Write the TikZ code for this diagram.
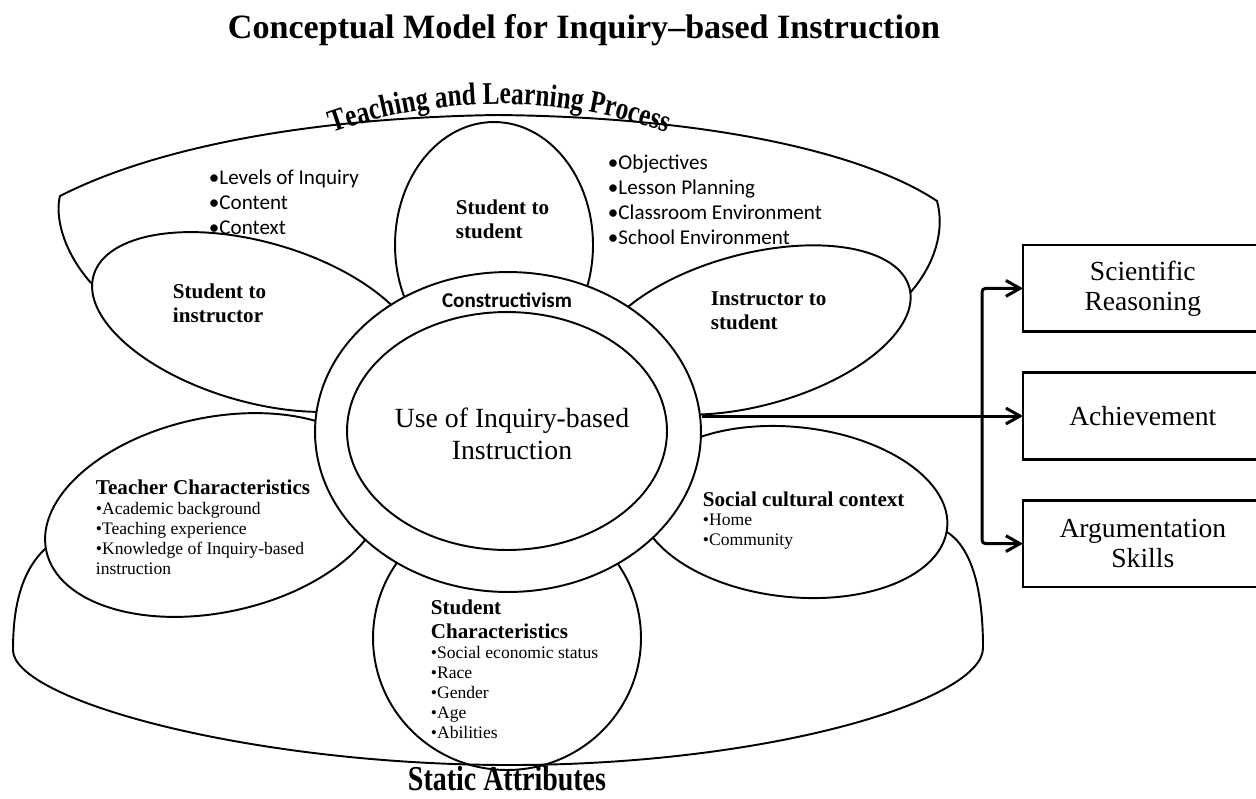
\documentclass[tikz,border=0pt]{standalone}
\usepackage{fontspec}
\setmainfont{Liberation Serif}
\newfontfamily\calibri{Carlito}
\newfontfamily\narrowserif[FakeStretch=0.8]{Liberation Serif}
\usetikzlibrary{arrows.meta,positioning,shapes.geometric,decorations.text}

\begin{document}
\begin{tikzpicture}[x=0.02cm,y=0.02cm,line width=1.1pt,>={Straight Barb[length=8pt,width=9pt]},
  petal/.style={ellipse,draw,fill=white,inner sep=0pt},
  hd/.style={font=\bfseries\fontsize{12}{13.4}\selectfont,align=left,anchor=north west,inner sep=0pt},
  bul/.style={font=\fontsize{10}{11.4}\selectfont,align=left,anchor=north west,inner sep=0pt},
  sbul/.style={font=\calibri\fontsize{12}{14.2}\selectfont,align=left,anchor=north west,inner sep=0pt},
  outcome/.style={rectangle,line width=1.5pt,minimum width=4.74cm,minimum height=1.68cm,align=center,font=\fontsize{15.7}{17}\selectfont},
  link/.style={line width=1.7pt,rounded corners=2pt},
  node distance=0.82cm]

  \useasboundingbox (0,-798) rectangle (1256,0);
  \clip (0,-798) rectangle (1256,0);

  \node[font=\bfseries\fontsize{19.4}{22}\selectfont,anchor=base] (title) at (584,-38) {Conceptual Model for Inquiry--based Instruction};

  % teaching and learning process
  \draw (91,-283) .. controls (62,-250) and (55,-215) .. (60,-196)
        .. controls (150,-150) and (300,-118) .. (497,-115)
        .. controls (700,-117) and (860,-150) .. (937,-201)
        .. controls (945,-230) and (935,-265) .. (909,-294);
  \path[decorate,decoration={text along path,text align=center,
      text={|\narrowserif\bfseries\fontsize{18}{20}\selectfont|Teaching and Learning Process}}]
    (500,-604) ++(112:500) arc[start angle=112,end angle=68,radius=10cm];

  \node[petal,minimum width=3.96cm,minimum height=4.92cm] (s2s) at (494,-245) {};
  \node[petal,minimum width=6.76cm,minimum height=3.2cm,rotate=-16] (s2i) at (256,-322) {};
  \node[petal,minimum width=6.52cm,minimum height=3.04cm,rotate=15] (i2s) at (752,-330) {};
  \node[petal,minimum width=6.9cm,minimum height=3.9cm,rotate=12] (teach) at (215,-515) {};
  \node[petal,minimum width=6.2cm,minimum height=3.4cm,rotate=-6] (social) at (793,-512) {};
  \node[petal,minimum width=5.36cm,minimum height=5.28cm] (stud) at (507,-638) {};

  % static attributes
  \draw (46,-548) .. controls (22,-570) and (13,-605) .. (13,-650)
        .. controls (13,-700) and (250,-765) .. (510,-765)
        .. controls (770,-765) and (983,-700) .. (983,-648)
        .. controls (983,-590) and (972,-548) .. (947,-532);
  \node[font=\narrowserif\bfseries\fontsize{19.9}{22}\selectfont,anchor=base] (sa) at (507,-790) {Static Attributes};

  \node[petal,minimum width=7.72cm,minimum height=6.4cm] (ring) at (508,-432) {};
  \node[petal,minimum width=6.4cm,minimum height=4.76cm] (core) at (507,-431) {};
  \node[align=center,font=\fontsize{15.8}{18.2}\selectfont] (coretxt) at (512,-434) {Use of Inquiry-based\\Instruction};
  \node[font=\calibri\bfseries\fontsize{12}{14}\selectfont,anchor=base] (constr) at (507,-307) {Constructivism};

  \node[hd] (s2stxt) at (455,-199) {Student to\\student};
  \node[hd] (s2itxt) at (172,-283) {Student to\\instructor};
  \node[hd] (i2stxt) at (710,-291) {Instructor to\\student};
  \node[sbul] (lvl) at (208,-169) {•Levels of Inquiry\\•Content\\•Context};
  \node[sbul] (obj) at (607,-154) {•Objectives\\•Lesson Planning\\•Classroom Environment\\•School Environment};

  \node[hd] (teachhd) at (95,-479) {Teacher Characteristics};
  \node[bul] (teachbul) at (95,-501) {•Academic background\\•Teaching experience\\•Knowledge of Inquiry-based\\instruction};
  \node[hd] (socialhd) at (702,-491) {Social cultural context};
  \node[bul] (socialbul) at (702,-513) {•Home\\•Community};
  \node[hd] (studhd) at (430,-599) {Student\\Characteristics};
  \node[bul] (studbul) at (430,-645) {•Social economic status\\•Race\\•Gender\\•Age\\•Abilities};

  % outcomes, cut off by the right edge
  \node[outcome,anchor=west] (ach) at (1023,-416) {Achievement};
  \node[outcome,above=of ach] (sci) {Scientific\\Reasoning};
  \node[outcome,below=of ach] (arg) {Argumentation\\Skills};
  \foreach \b in {sci,ach,arg}
    \draw[line width=1.5pt] (\b.north east) -- (\b.north west) -- (\b.south west) -- (\b.south east);
  \coordinate (fork) at (982,-416);

  \draw[link,->] (ring.east |- ach.west) -- (ach.west);
  \draw[link,<->] (sci.west) -| (fork) |- (arg.west);

\end{tikzpicture}
\end{document}
